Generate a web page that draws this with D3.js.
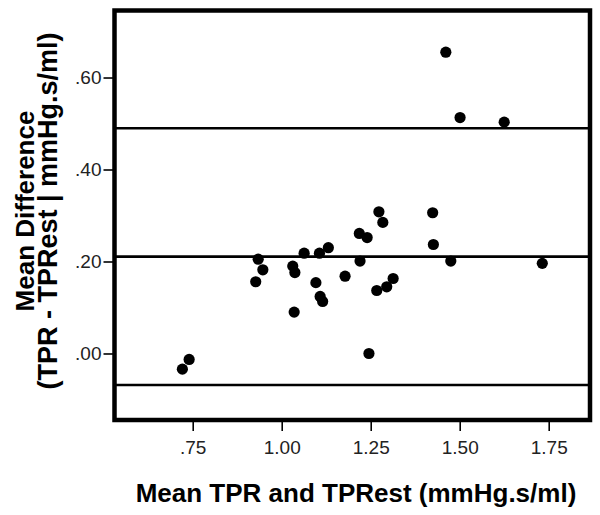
<!DOCTYPE html>
<html>
<head>
<meta charset="utf-8">
<script src="https://cdn.jsdelivr.net/npm/d3@7"></script>
<style>
  html, body { margin: 0; padding: 0; background: #fff; }
  svg { display: block; }
</style>
</head>
<body>
<svg id="chart" width="600" height="515"></svg>
<script>
// ---- data ----
const meanValues = [0.721, 0.740, 0.934, 0.947, 0.927, 1.031, 1.037, 1.035, 1.063, 1.096,
                    1.108, 1.115, 1.106, 1.131, 1.178, 1.218, 1.240, 1.220, 1.245, 1.273,
                    1.284, 1.267, 1.295, 1.313, 1.461, 1.501, 1.625, 1.424, 1.426, 1.475, 1.732];
const diffValues = [-0.034, -0.013, 0.205, 0.182, 0.156, 0.190, 0.176, 0.090, 0.218, 0.154,
                    0.124, 0.113, 0.218, 0.230, 0.168, 0.261, 0.252, 0.201, 0.000, 0.308,
                    0.285, 0.137, 0.145, 0.163, 0.655, 0.513, 0.503, 0.306, 0.237, 0.201, 0.196];
const refLines = [0.4896, 0.2105, -0.0685];   // upper limit, mean, lower limit
const xTicks = [0.75, 1.00, 1.25, 1.50, 1.75];
const yTicks = [0.00, 0.20, 0.40, 0.60];
const xTitle = "Mean TPR and TPRest (mmHg.s/ml)";
const yTitle = ["Mean Difference", "(TPR - TPRest | mmHg.s/ml)"];

// ---- layout ----
const plotL = 114.5, plotR = 590, plotT = 10.5, plotB = 420;
const svg = d3.select("#chart");

const x = d3.scaleLinear().domain([0.5303, 1.866]).range([plotL, plotR]);
const y = d3.scaleLinear().domain([-0.1446, 0.7457]).range([plotB, plotT]);

const fmt = v => d3.format(".2f")(v).replace(/^0\./, ".").replace(/^-0\./, "-.");
const tickFont = "'Liberation Sans Narrow', 'Liberation Sans', Arial, sans-serif";

// axes
const yAxis = svg.append("g")
  .attr("transform", `translate(${plotL},0)`)
  .call(d3.axisLeft(y).tickValues(yTicks).tickFormat(fmt).tickSize(11).tickPadding(2));
const xAxis = svg.append("g")
  .attr("transform", `translate(0,${plotB})`)
  .call(d3.axisBottom(x).tickValues(xTicks).tickFormat(fmt).tickSize(11).tickPadding(10));

[xAxis, yAxis].forEach(g => {
  g.select(".domain").remove();
  g.selectAll(".tick line").attr("stroke", "#000").attr("stroke-width", 1.6);
  g.selectAll(".tick text")
    .attr("fill", "#222")
    .style("font-family", tickFont)
    .style("font-size", "19px");
});

// reference lines
svg.append("g").selectAll("line").data(refLines).join("line")
  .attr("x1", plotL).attr("x2", plotR)
  .attr("y1", d => y(d)).attr("y2", d => y(d))
  .attr("stroke", "#000").attr("stroke-width", 2.6);

// points
svg.append("g").selectAll("circle").data(meanValues.map((m, i) => [m, diffValues[i]])).join("circle")
  .attr("cx", d => x(d[0])).attr("cy", d => y(d[1]))
  .attr("r", 5.6).attr("fill", "#000");

// frame
svg.append("rect")
  .attr("x", plotL).attr("y", plotT)
  .attr("width", plotR - plotL).attr("height", plotB - plotT)
  .attr("fill", "none").attr("stroke", "#000").attr("stroke-width", 4.5);

// titles
const titleFont = "'Liberation Sans', Arial, sans-serif";
svg.append("text")
  .attr("x", 356).attr("y", 502)
  .attr("text-anchor", "middle")
  .style("font-family", titleFont)
  .style("font-size", "26px").style("font-weight", "bold")
  .text(xTitle);

const yTitlePos = [[34, 26], [57, 27]];
yTitle.forEach((t, i) => {
  svg.append("text")
    .attr("transform", `translate(${yTitlePos[i][0]},211) rotate(-90)`)
    .attr("text-anchor", "middle")
    .style("font-family", titleFont)
    .style("font-size", yTitlePos[i][1] + "px").style("font-weight", "bold")
    .text(t);
});
</script>
</body>
</html>
